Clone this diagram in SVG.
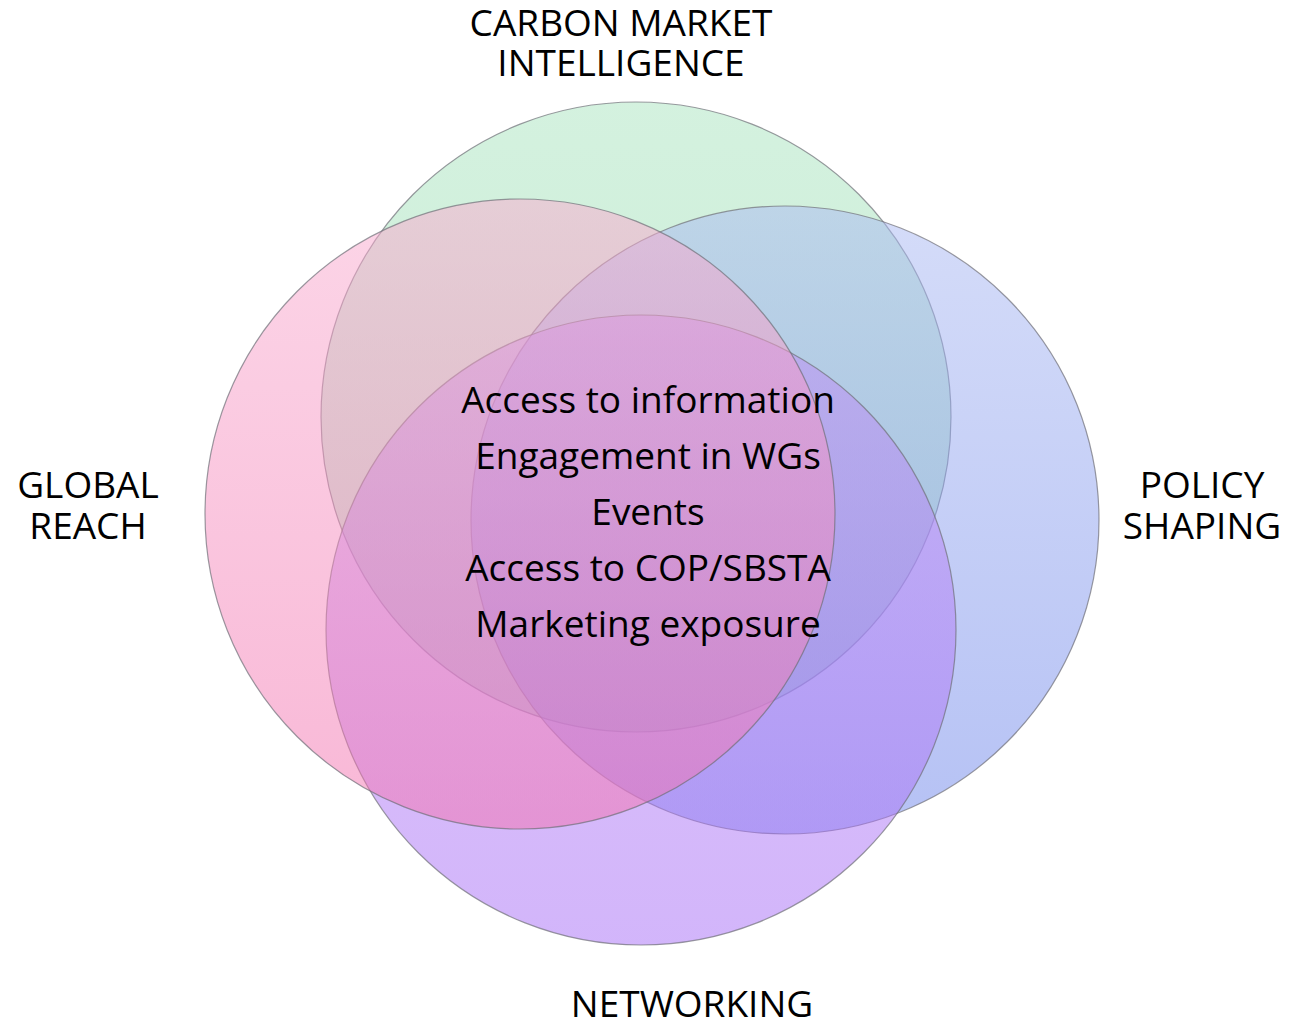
<svg xmlns="http://www.w3.org/2000/svg" width="1306" height="1024" viewBox="0 0 1306 1024">
  <defs>
    <linearGradient id="gGreen" x1="0" y1="0" x2="0" y2="1">
      <stop offset="0" stop-color="#a9e4bf"/>
      <stop offset="1" stop-color="#8fd6a8"/>
    </linearGradient>
    <linearGradient id="gBlue" x1="0" y1="0" x2="0" y2="1">
      <stop offset="0" stop-color="#aab9f2"/>
      <stop offset="1" stop-color="#6c84ea"/>
    </linearGradient>
    <linearGradient id="gPurple" x1="0" y1="0" x2="0" y2="1">
      <stop offset="0" stop-color="#bf8ef4"/>
      <stop offset="1" stop-color="#a66cf6"/>
    </linearGradient>
    <linearGradient id="gPink" x1="0" y1="0" x2="0" y2="1">
      <stop offset="0" stop-color="#f9abcf"/>
      <stop offset="1" stop-color="#f270ae"/>
    </linearGradient>
  </defs>
  <style>
    .set { fill-opacity: 0.5; stroke: #6f6f78; stroke-opacity: 0.7; stroke-width: 1.2; }
    .label { font-family: "Open Sans", "DejaVu Sans", sans-serif; font-size: 37px; fill: #000; text-anchor: middle; }
  </style>

  <!-- overlapping sets -->
  <g id="carbon-market-intelligence">
    <circle class="set" cx="636" cy="417" r="315" fill="url(#gGreen)"/>
  </g>
  <g id="policy-shaping">
    <circle class="set" cx="785" cy="520" r="314" fill="url(#gBlue)"/>
  </g>
  <g id="networking">
    <circle class="set" cx="641" cy="630" r="315" fill="url(#gPurple)"/>
  </g>
  <g id="global-reach">
    <circle class="set" cx="520" cy="514" r="315" fill="url(#gPink)"/>
  </g>

  <!-- no connectors in this chart -->
  <g id="connectors"/>

  <!-- set titles -->
  <g id="title-carbon">
    <text class="label" x="621" y="36">CARBON MARKET</text>
    <text class="label" x="621" y="76">INTELLIGENCE</text>
  </g>
  <g id="title-global">
    <text class="label" x="88" y="498">GLOBAL</text>
    <text class="label" x="88" y="539">REACH</text>
  </g>
  <g id="title-policy">
    <text class="label" x="1202" y="498">POLICY</text>
    <text class="label" x="1202" y="539">SHAPING</text>
  </g>
  <g id="title-networking">
    <text class="label" x="692" y="1017">NETWORKING</text>
  </g>

  <!-- shared benefits in the middle -->
  <g id="center-benefits">
    <text class="label" x="648" y="413">Access to information</text>
    <text class="label" x="648" y="469">Engagement in WGs</text>
    <text class="label" x="648" y="525">Events</text>
    <text class="label" x="648" y="581">Access to COP/SBSTA</text>
    <text class="label" x="648" y="637">Marketing exposure</text>
  </g>
</svg>
